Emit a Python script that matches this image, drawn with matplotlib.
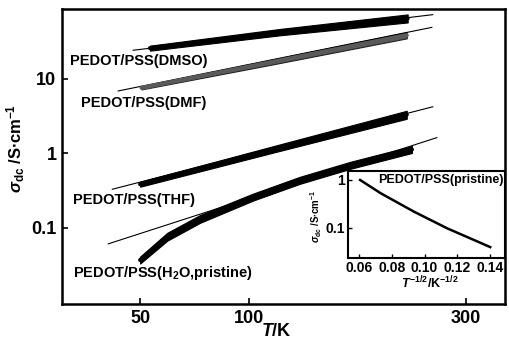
import numpy as np
import matplotlib
matplotlib.use("Agg")
import matplotlib.pyplot as plt

plt.rcParams['font.family'] = ['Liberation Sans', 'DejaVu Sans']
plt.rcParams['font.weight'] = 'bold'
plt.rcParams['mathtext.fontset'] = 'custom'
plt.rcParams['mathtext.rm'] = 'Liberation Sans:bold'
plt.rcParams['mathtext.it'] = 'Liberation Sans:bold:italic'
plt.rcParams['mathtext.bf'] = 'Liberation Sans:bold'

# conductivity (S/cm) vs temperature (K)
# each measured curve is a dense band of points: lower / upper edge of the band
T_dmso = [53.5, 119, 230]
s_dmso_lo = [24.0, 38.5, 57.4]
s_dmso_hi = [28.0, 46.9, 73.6]
T_dmso_fit = [47.6, 258.6]
s_dmso_fit = [24.3, 73.0]

T_dmf = [50.5, 116, 229]
s_dmf_lo = [7.24, 15.9, 35.1]
s_dmf_hi = [7.98, 18.6, 42.5]
T_dmf_fit = [42.8, 257.5]
s_dmf_fit = [6.9, 49.3]

T_thf = [50, 116, 229]
s_thf_lo = [0.357, 1.04, 2.92]
s_thf_hi = [0.417, 1.27, 3.74]
T_thf_fit = [41, 258.6]
s_thf_fit = [0.33, 4.23]

T_pri = [50, 60.1, 74.3, 102.3, 133.2, 173.2, 234.7]
s_pri_lo = [0.0332, 0.0673, 0.117, 0.2325, 0.391, 0.619, 1.014]
s_pri_hi = [0.0412, 0.0859, 0.149, 0.2885, 0.486, 0.769, 1.259]
T_pri_fit = [39.8, 263.5]
s_pri_fit = [0.061, 1.63]

# inset: pristine vs T^-1/2
x_ins = [0.0607, 0.0733, 0.0935, 0.1137, 0.1400]
s_ins = [1.0, 0.528, 0.219, 0.0986, 0.040]

W, H = 510, 345
def fx(x): return x / W
def fy(y): return 1 - y / H

fig = plt.figure(figsize=(5.1, 3.45), dpi=100)
ax = fig.add_axes([fx(62), fy(304), (505 - 62) / W, (304 - 9) / H])

fwd = lambda t: np.power(np.clip(t, 1e-9, None), 0.25)
inv = lambda u: np.power(np.clip(u, 0, None), 4)
ax.set_xscale('function', functions=(fwd, inv))
ax.set_yscale('log')
ax.set_xlim(27.9, 356)
ax.set_ylim(0.0095, 87)

def band(T, lo, hi, face, edge):
    ax.fill_between(T, lo, hi, facecolor=face, edgecolor=edge, lw=0.8)
    mid = np.sqrt(np.array(lo) * np.array(hi))
    ax.plot(T, mid, color=face, lw=3, solid_capstyle='round', solid_joinstyle='round')

ax.plot(T_dmso_fit, s_dmso_fit, color='black', lw=0.8)
band(T_dmso, s_dmso_lo, s_dmso_hi, 'black', 'black')
ax.plot(T_dmf_fit, s_dmf_fit, color='black', lw=0.8)
band(T_dmf, s_dmf_lo, s_dmf_hi, '#5a5a5a', '#222222')
ax.plot(T_thf_fit, s_thf_fit, color='black', lw=0.8)
band(T_thf, s_thf_lo, s_thf_hi, 'black', 'black')
ax.plot(T_pri_fit, s_pri_fit, color='black', lw=0.8)
band(T_pri, s_pri_lo, s_pri_hi, 'black', 'black')

ax.set_xticks([50, 100, 300])
ax.set_xticklabels(['50', '100', '300'])
ax.set_yticks([0.1, 1, 10])
ax.set_yticklabels(['0.1', '1', '10'])
ax.minorticks_off()
ax.tick_params(direction='in', length=4, width=1.2, labelsize=13, pad=4)
for sp in ax.spines.values():
    sp.set_linewidth(1.8)

lab = dict(fontsize=10.5, fontweight='bold', va='center', ha='left')
fig.text(fx(70), fy(61), 'PEDOT/PSS(DMSO)', **lab)
fig.text(fx(81), fy(103), 'PEDOT/PSS(DMF)', **lab)
fig.text(fx(73), fy(200), 'PEDOT/PSS(THF)', **lab)
fig.text(fx(73), fy(273), r'PEDOT/PSS(H$_2$O,pristine)', **lab)

fig.text(fx(276), fy(331), r'$T$/K', fontsize=13, ha='center', va='center')
fig.text(fx(16), fy(148), r'$\sigma_{\rm dc}$ /S$\bullet$cm$^{-1}$', fontsize=12,
         rotation=90, ha='center', va='center')

# inset
ins = fig.add_axes([fx(348), fy(258), (505 - 348) / W, (258 - 171) / H])
ins.set_yscale('log')
ins.plot(x_ins, s_ins, color='black', lw=1.8)
ins.set_xlim(0.0533, 0.149)
ins.set_ylim(0.0237, 1.54)
ins.set_xticks([0.06, 0.08, 0.10, 0.12, 0.14])
ins.set_xticklabels(['0.06', '0.08', '0.10', '0.12', '0.14'])
ins.set_yticks([0.1, 1])
ins.set_yticklabels(['0.1', '1'])
ins.minorticks_off()
ins.tick_params(direction='in', length=3, width=1, labelsize=10, pad=2)
for sp in ins.spines.values():
    sp.set_linewidth(1.5)
ins.text(0.99, 0.97, 'PEDOT/PSS(pristine)', transform=ins.transAxes,
         fontsize=9, ha='right', va='top')
fig.text(fx(316), fy(216), r'$\sigma_{\rm dc}$ /S$\bullet$cm$^{-1}$', fontsize=7,
         rotation=90, ha='center', va='center')
fig.text(fx(430), fy(283), r'$T^{-1/2}$/K$^{-1/2}$', fontsize=9, ha='center', va='center')

fig.savefig('out.png', dpi=100)
